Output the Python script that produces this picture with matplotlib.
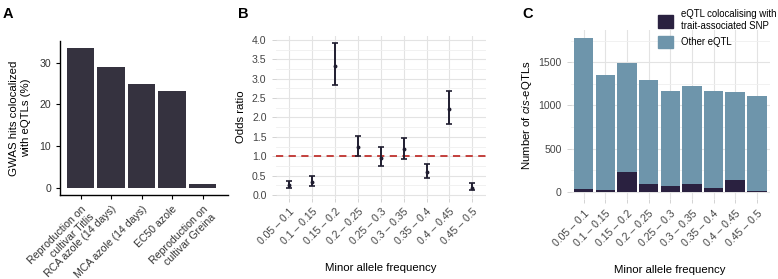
import numpy as np
import matplotlib
matplotlib.use("Agg")
import matplotlib.pyplot as plt
from matplotlib.patches import Patch
from matplotlib.ticker import MultipleLocator, FormatStrFormatter

plt.rcParams['font.family'] = ['Liberation Sans', 'DejaVu Sans']
plt.rcParams['mathtext.fontset'] = 'custom'
plt.rcParams['mathtext.rm'] = 'Liberation Sans'
plt.rcParams['mathtext.it'] = 'Liberation Sans:italic'

# ---- data ----
# Panel A
traits = ["Reproduction on\ncultivar Titlis", "RCA azole (14 days)",
          "MCA azole (14 days)", "EC50 azole", "Reproduction on\ncultivar Greina"]
pct_coloc = [33.6, 29.0, 25.0, 23.1, 0.8]

# Panel B / C
maf_bins = ["0.05 – 0.1", "0.1 – 0.15", "0.15 – 0.2", "0.2 – 0.25", "0.25 – 0.3",
            "0.3 – 0.35", "0.35 – 0.4", "0.4 – 0.45", "0.45 – 0.5"]
odds = [0.27, 0.34, 3.33, 1.23, 0.96, 1.18, 0.59, 2.23, 0.17]
odds_lo = [0.18, 0.24, 2.83, 1.00, 0.75, 0.94, 0.45, 1.84, 0.12]
odds_hi = [0.36, 0.48, 3.92, 1.53, 1.23, 1.47, 0.79, 2.69, 0.31]

coloc_n = [28, 20, 229, 93, 66, 86, 39, 136, 5]
total_n = [1786, 1350, 1497, 1296, 1172, 1223, 1168, 1153, 1114]
other_n = [t - c for t, c in zip(total_n, coloc_n)]

bar_dark = "#35323f"
navy = "#2a2140"
steel = "#6e95ab"
grid_c = "#e3e3e3"
tick_fs = 7.6
lab_fs = 8.2

fig = plt.figure(figsize=(7.78, 2.79), dpi=100)

# ---- A ----
axA = fig.add_axes([0.0771, 0.3022, 0.2163, 0.5509])
xa = np.arange(len(traits))
axA.bar(xa, pct_coloc, width=0.9, color=bar_dark)
axA.set_xlim(-0.68, 4.84)
axA.set_ylim(-1.67, 35.2)
axA.set_yticks([0, 10, 20, 30])
axA.set_xticks(xa)
axA.set_xticklabels(traits, rotation=45, ha='right', rotation_mode='anchor',
                    multialignment='right')
for s in ['top', 'right']:
    axA.spines[s].set_visible(False)
for s in ['left', 'bottom']:
    axA.spines[s].set_linewidth(1.0)
axA.tick_params(labelsize=tick_fs, length=3, width=0.8, colors='black',
                labelcolor='#333333')
axA.set_ylabel("GWAS hits colocalized\nwith eQTLs (%)", fontsize=lab_fs,
               labelpad=6, linespacing=1.3)

# ---- B ----
axB = fig.add_axes([0.3542, 0.2914, 0.2705, 0.5806])
xb = np.arange(len(maf_bins))
axB.set_axisbelow(True)
axB.yaxis.set_major_locator(MultipleLocator(0.5))
axB.yaxis.set_minor_locator(MultipleLocator(0.25))
axB.grid(True, which='major', color=grid_c, linewidth=0.8)
axB.grid(True, which='minor', axis='y', color='#efefef', linewidth=0.6)
axB.axhline(1.0, color='#c0322e', linestyle=(0, (4, 3)), linewidth=1.3, zorder=2)
yerr = [np.array(odds) - np.array(odds_lo), np.array(odds_hi) - np.array(odds)]
axB.errorbar(xb, odds, yerr=yerr, fmt='o', markersize=1.8, color='#1f1d30',
             ecolor='#1f1d30', elinewidth=1.4, capsize=2.2, capthick=1.2, zorder=3)
axB.set_xlim(-0.6, 8.6)
axB.set_ylim(-0.07, 4.11)
axB.set_xticks(xb)
axB.set_xticklabels(maf_bins, rotation=45, ha='right', rotation_mode='anchor')
axB.yaxis.set_major_formatter(FormatStrFormatter('%.1f'))
for s in axB.spines.values():
    s.set_visible(False)
axB.tick_params(which='major', labelsize=tick_fs, length=3, width=0.6,
                colors='#cccccc', labelcolor='#444444')
axB.tick_params(which='minor', length=0)
axB.set_ylabel("Odds ratio", fontsize=lab_fs)
axB.set_xlabel("Minor allele frequency", fontsize=lab_fs, labelpad=12)

# ---- C ----
axC = fig.add_axes([0.7335, 0.2853, 0.256, 0.6072])
xc = np.arange(len(maf_bins))
axC.set_axisbelow(True)
axC.yaxis.set_major_locator(MultipleLocator(500))
axC.yaxis.set_minor_locator(MultipleLocator(250))
axC.grid(True, which='major', color=grid_c, linewidth=0.8)
axC.grid(True, which='minor', axis='y', color='#efefef', linewidth=0.6)
axC.bar(xc, coloc_n, width=0.9, color=navy)
axC.bar(xc, other_n, bottom=coloc_n, width=0.9, color=steel)
axC.set_xlim(-0.6, 8.6)
axC.set_ylim(-89, 1875)
axC.set_xticks(xc)
axC.set_xticklabels(maf_bins, rotation=45, ha='right', rotation_mode='anchor')
for s in axC.spines.values():
    s.set_visible(False)
axC.tick_params(which='major', labelsize=tick_fs, length=3, width=0.6,
                colors='#cccccc', labelcolor='#444444')
axC.tick_params(which='minor', length=0)
axC.set_ylabel(r"Number of $\it{cis}$-eQTLs", fontsize=lab_fs, labelpad=3)
axC.set_xlabel("Minor allele frequency", fontsize=lab_fs, labelpad=12)
handles = [Patch(color=navy, label="eQTL colocalising with\ntrait-associated SNP"),
           Patch(color=steel, label="Other eQTL")]
fig.legend(handles=handles, loc='upper left', bbox_to_anchor=(0.8458, 0.966),
           frameon=False, fontsize=6.9, handlelength=1.57, handleheight=1.67,
           handletextpad=0.8, labelspacing=0.47, borderaxespad=0, borderpad=0)

# panel letters
fig.text(0.003, 0.975, "A", fontsize=10.5, fontweight='bold', va='top')
fig.text(0.306, 0.975, "B", fontsize=10.5, fontweight='bold', va='top')
fig.text(0.672, 0.975, "C", fontsize=10.5, fontweight='bold', va='top')

fig.savefig("out.png", dpi=100)
